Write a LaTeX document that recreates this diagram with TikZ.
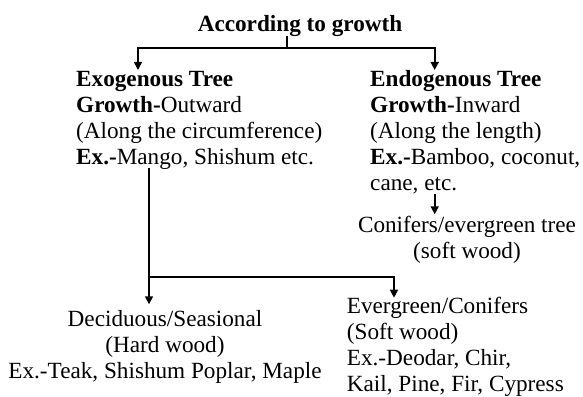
\documentclass[tikz,border=0pt]{standalone}
\usepackage{fontspec}
\setmainfont{Liberation Serif}
\usetikzlibrary{arrows.meta}
\begin{document}
\begin{tikzpicture}[x=1pt,y=-1pt,
 txt/.style={inner sep=0pt, font=\fontsize{23.2}{26}\selectfont, align=left},
 ctxt/.style={txt, align=center},
 arr/.style={line width=1.6pt, -{Triangle[length=8pt,width=8pt]}},
 ln/.style={line width=1.6pt}]
\fill[white] (0,0) rectangle (583,396);
\useasboundingbox (0,0) rectangle (583,396);
\node[inner sep=0pt, font=\bfseries\fontsize{23.2}{26}\selectfont, anchor=base] (title) at (300,31.7) {According to growth};
\node[txt, anchor=base west] (exo) at (76,164) {\textbf{Exogenous Tree}\\\textbf{Growth-}Outward\\(Along the circumference)\\\textbf{Ex.-}Mango, Shishum etc.};
\node[txt, anchor=base west] (endo) at (370,190) {\textbf{Endogenous Tree}\\\textbf{Growth-}Inward\\(Along the length)\\\textbf{Ex.-}Bamboo, coconut,\\cane, etc.};
\node[ctxt, anchor=base] (conif) at (467,258.7) {Conifers/evergreen tree\\(soft wood)};
\node[ctxt, anchor=base] (decid) at (165,378) {Deciduous/Seasional\\(Hard wood)\\Ex.-Teak, Shishum Poplar, Maple};
\node[txt, anchor=base west] (ever) at (346.7,391) {Evergreen/Conifers\\(Soft wood)\\Ex.-Deodar, Chir,\\Kail, Pine, Fir, Cypress};
\coordinate (tt) at (286.7,36);
\coordinate (top) at (286.7,48.3);
\coordinate (la) at (138,70);
\coordinate (ra) at (434.7,70);
\coordinate (ls) at (149,168);
\coordinate (lb) at (149,277);
\coordinate (ld) at (149,304.3);
\coordinate (re) at (394,297.7);
\coordinate (rs) at (434.7,194);
\coordinate (rd) at (434.7,214.3);
\draw[ln] (tt) -- (top);
\draw[arr] (top) -| (la);
\draw[arr] (top) -| (ra);
\draw[arr] (ls) -- (ld);
\draw[arr] (lb) -| (re);
\draw[arr] (rs) -- (rd);
\end{tikzpicture}
\end{document}
